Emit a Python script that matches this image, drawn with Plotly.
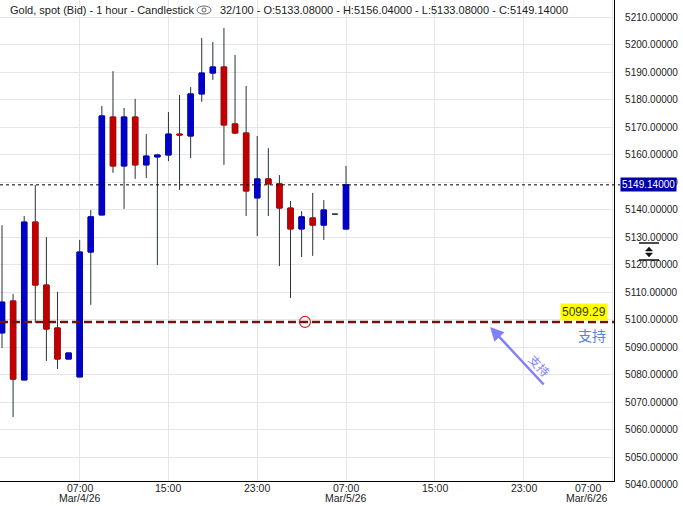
import plotly.graph_objects as go

# ---------------- data ----------------
times = [
    "2026-03-04 00:00", "2026-03-04 01:00", "2026-03-04 02:00", "2026-03-04 03:00",
    "2026-03-04 04:00", "2026-03-04 05:00", "2026-03-04 06:00", "2026-03-04 07:00",
    "2026-03-04 08:00", "2026-03-04 09:00", "2026-03-04 10:00", "2026-03-04 11:00",
    "2026-03-04 12:00", "2026-03-04 13:00", "2026-03-04 14:00", "2026-03-04 15:00",
    "2026-03-04 16:00", "2026-03-04 17:00", "2026-03-04 18:00", "2026-03-04 19:00",
    "2026-03-04 20:00", "2026-03-04 21:00", "2026-03-04 22:00", "2026-03-04 23:00",
    "2026-03-05 00:00", "2026-03-05 01:00", "2026-03-05 02:00", "2026-03-05 03:00",
    "2026-03-05 04:00", "2026-03-05 05:00", "2026-03-05 06:00", "2026-03-05 07:00",
]
opens = [5095.3, 5106.9, 5078.2, 5135.6, 5112.7, 5097.1, 5085.8, 5079.3,
         5124.7, 5138.2, 5173.8, 5156.0, 5173.8, 5156.4, 5159.3, 5160.0,
         5167.6, 5166.9, 5182.2, 5189.8, 5192.0, 5171.3, 5168.0, 5144.4,
         5151.3, 5149.5, 5140.7, 5133.1, 5137.1, 5134.5, 5138.5, 5133.08]
highs = [5134.5, 5109.5, 5137.8, 5149.1, 5130.2, 5110.2, 5088.0, 5129.1,
         5140.0, 5177.8, 5190.5, 5177.1, 5180.4, 5167.6, 5160.4, 5175.6,
         5181.8, 5184.7, 5202.5, 5201.1, 5206.2, 5196.4, 5185.1, 5166.9,
         5162.5, 5152.7, 5143.3, 5139.6, 5146.2, 5143.6, 5138.5, 5156.04]
lows = [5089.8, 5064.7, 5078.2, 5098.9, 5085.1, 5082.2, 5085.8, 5079.3,
        5105.5, 5138.2, 5153.5, 5140.4, 5151.3, 5151.6, 5120.0, 5157.8,
        5147.3, 5158.9, 5179.3, 5187.3, 5156.4, 5167.6, 5137.8, 5130.5,
        5137.8, 5119.6, 5108.0, 5122.9, 5123.3, 5129.1, 5138.5, 5133.08]
closes = [5106.5, 5078.5, 5135.6, 5112.7, 5096.7, 5085.8, 5088.0, 5124.7,
          5137.5, 5174.2, 5156.0, 5173.8, 5156.4, 5159.6, 5160.0, 5167.6,
          5167.3, 5182.2, 5189.8, 5192.0, 5170.9, 5168.0, 5146.9, 5151.3,
          5149.5, 5140.7, 5133.1, 5137.5, 5134.5, 5140.0, 5138.5, 5149.14]

last_price = 5149.14
support_price = 5099.29
support_marker_time = "2026-03-05 03:18"
arrow_head_time = "2026-03-05 19:59"
arrow_head_price = 5097.45
arrow_text_time = "2026-03-06 00:29"
arrow_text_price = 5083.6

y_ticks = [5040 + 10 * i for i in range(18)]
y_tick_text = [f"{v:.5f}" for v in y_ticks]
x_tick_vals = ["2026-03-04 07:00", "2026-03-04 15:00", "2026-03-04 23:00",
               "2026-03-05 07:00", "2026-03-05 15:00", "2026-03-05 23:00",
               "2026-03-06 07:00"]
x_tick_top = ["07:00", "15:00", "23:00", "07:00", "15:00", "23:00", "07:00"]
x_tick_bottom = ["Mar/4/26", "", "", "Mar/5/26", "", "", "Mar/6/26"]

header_left = "Gold, spot (Bid) - 1 hour - Candlestick"
header_right = "32/100 - O:5133.08000 - H:5156.04000 - L:5133.08000 - C:5149.14000"

# ---------------- styling ----------------
BLUE = "#0000c8"
RED = "#c00000"
WICK = "#27323a"
FONT = "Liberation Sans, Arial, sans-serif"
PLOT_W, PLOT_H = 614, 481

def px(x):
    return x / PLOT_W

def py(y):
    return 1 - y / PLOT_H

fig = go.Figure()

# wicks (full OHLC in dark colour)
fig.add_trace(go.Candlestick(
    x=times, open=opens, high=highs, low=lows, close=closes,
    increasing=dict(line=dict(color=WICK, width=1), fillcolor=WICK),
    decreasing=dict(line=dict(color=WICK, width=1), fillcolor=WICK),
    whiskerwidth=0, showlegend=False, hoverinfo="skip",
))

# bodies
b_open, b_close, b_high, b_low = [], [], [], []
for o, c in zip(opens, closes):
    if o == c:
        b_open.append(None); b_close.append(None); b_high.append(None); b_low.append(None)
    else:
        b_open.append(o); b_close.append(c); b_high.append(max(o, c)); b_low.append(min(o, c))

fig.add_trace(go.Candlestick(
    x=times, open=b_open, high=b_high, low=b_low, close=b_close,
    increasing=dict(line=dict(color=BLUE, width=1), fillcolor=BLUE),
    decreasing=dict(line=dict(color=RED, width=1), fillcolor=RED),
    whiskerwidth=0, showlegend=False, hoverinfo="skip",
))

# support marker circle
fig.add_trace(go.Scatter(
    x=[support_marker_time], y=[support_price], mode="markers",
    marker=dict(symbol="circle-open", size=11, color="#e02020", line=dict(width=1.2)),
    showlegend=False, hoverinfo="skip", cliponaxis=False,
))

shapes = [
    # last price dotted line
    dict(type="line", xref="paper", yref="y", x0=0, x1=px(620), y0=last_price, y1=last_price,
         line=dict(color="#000000", width=1, dash="3px,3px"), layer="above"),
    # support dashed line
    dict(type="line", xref="paper", yref="y", x0=0, x1=1, y0=support_price, y1=support_price,
         line=dict(color="#6e1414", width=2.6, dash="8px,4px"), layer="above"),
    # eye icon
    dict(type="circle", xref="paper", yref="paper", x0=px(197), x1=px(211), y0=py(14), y1=py(6),
         line=dict(color="#666666", width=1)),
    dict(type="circle", xref="paper", yref="paper", x0=px(202), x1=px(206), y0=py(12), y1=py(8),
         line=dict(color="#666666", width=1)),
    # scale icon on right axis
    dict(type="line", xref="paper", yref="paper", x0=px(639), x1=px(659), y0=py(243), y1=py(243),
         line=dict(color="#111111", width=1.5)),
    dict(type="line", xref="paper", yref="paper", x0=px(639), x1=px(659), y0=py(260), y1=py(260),
         line=dict(color="#111111", width=1.5)),
    dict(type="path", xref="paper", yref="paper",
         path=f"M {px(645.5)},{py(251)} L {px(649)},{py(247)} L {px(652.5)},{py(251)} Z",
         fillcolor="#111111", line=dict(color="#111111", width=0.5)),
    dict(type="path", xref="paper", yref="paper",
         path=f"M {px(645.5)},{py(253)} L {px(649)},{py(257)} L {px(652.5)},{py(253)} Z",
         fillcolor="#111111", line=dict(color="#111111", width=0.5)),
]

annotations = [
    dict(text=header_left, xref="paper", yref="paper", x=px(8), y=py(10), xanchor="left",
         yanchor="middle", showarrow=False, font=dict(size=11, color="#222222", family=FONT)),
    dict(text=header_right, xref="paper", yref="paper", x=px(218), y=py(10), xanchor="left",
         yanchor="middle", showarrow=False, font=dict(size=11, color="#222222", family=FONT)),
    # last price box
    dict(text="5149.14000", xref="paper", yref="y", x=1, y=last_price, xanchor="left",
         yanchor="middle", xshift=6, showarrow=False, bgcolor="#0000a8", borderpad=1,
         font=dict(size=10, color="#ffffff", family=FONT)),
    # 5040 label just below the plot frame
    dict(text=y_tick_text[0], xref="paper", yref="paper", x=1, y=py(484), xanchor="left",
         yanchor="middle", xshift=9, showarrow=False, font=dict(size=10, color="#222222", family=FONT)),
    # support label
    dict(text=f"{support_price:.2f}", xref="paper", yref="y", x=px(608), y=support_price,
         xanchor="right", yanchor="bottom", yshift=1, showarrow=False, bgcolor="#ffff00",
         borderpad=1, font=dict(size=12, color="#404000", family=FONT)),
    dict(text="支持", xref="paper", yref="y", x=px(592), y=support_price, xanchor="center",
         yanchor="middle", yshift=-13, showarrow=False,
         font=dict(size=14, color="#5b7fe0", family="Noto Sans CJK SC")),
    # arrow
    dict(text="", xref="x", yref="y", x=arrow_head_time, y=arrow_head_price, ax=55, ay=59,
         showarrow=True, arrowhead=2, arrowsize=1.1, arrowwidth=2.5, arrowcolor="#8080ff"),
    dict(text="支持", xref="x", yref="y", x=arrow_text_time, y=arrow_text_price, textangle=47,
         showarrow=False, font=dict(size=12, color="#8080ff", family="Noto Sans CJK SC")),
]

# x tick labels (two lines, tight spacing)
for i, (tv, top, bot) in enumerate(zip(x_tick_vals, x_tick_top, x_tick_bottom)):
    last = i == len(x_tick_vals) - 1
    anchor = "right" if last else "center"
    annotations.append(dict(text=top, xref="x", yref="paper", x=tv, y=0, xanchor=anchor,
                            yanchor="middle", yshift=-7, xshift=-9 if last else 0,
                            showarrow=False, font=dict(size=10.5, color="#222222", family=FONT)))
    if bot:
        annotations.append(dict(text=bot, xref="x", yref="paper", x=tv, y=0, xanchor=anchor,
                                yanchor="middle", yshift=-17, xshift=-2 if last else 0,
                                showarrow=False, font=dict(size=10.5, color="#222222", family=FONT)))

fig.update_layout(
    width=683, height=506,
    margin=dict(l=0, r=683 - PLOT_W, t=0, b=506 - PLOT_H),
    paper_bgcolor="#ffffff", plot_bgcolor="#ffffff",
    showlegend=False, hovermode=False,
    shapes=shapes, annotations=annotations,
    font=dict(family=FONT, size=10, color="#222222"),
    xaxis=dict(
        type="date", range=["2026-03-03 23:49:12", "2026-03-06 07:09:00"],
        tickvals=x_tick_vals, showticklabels=False, ticks="",
        showgrid=True, gridcolor="#e6e6e6", gridwidth=1,
        showline=True, linecolor="#000000", linewidth=1.2,
        rangeslider=dict(visible=False), zeroline=False, fixedrange=True,
    ),
    yaxis=dict(
        side="right", range=[5041.45, 5216.36],
        tickvals=y_ticks, ticktext=y_tick_text,
        ticks="outside", ticklen=8, tickcolor="rgba(0,0,0,0)",
        tickfont=dict(size=10, color="#222222", family=FONT),
        showgrid=True, gridcolor="#e6e6e6", gridwidth=1,
        showline=True, linecolor="#000000", linewidth=1.2,
        zeroline=False, fixedrange=True,
    ),
)

fig.write_html("out.html", config={"displayModeBar": False},
               post_script="document.body.style.margin='0px';")
